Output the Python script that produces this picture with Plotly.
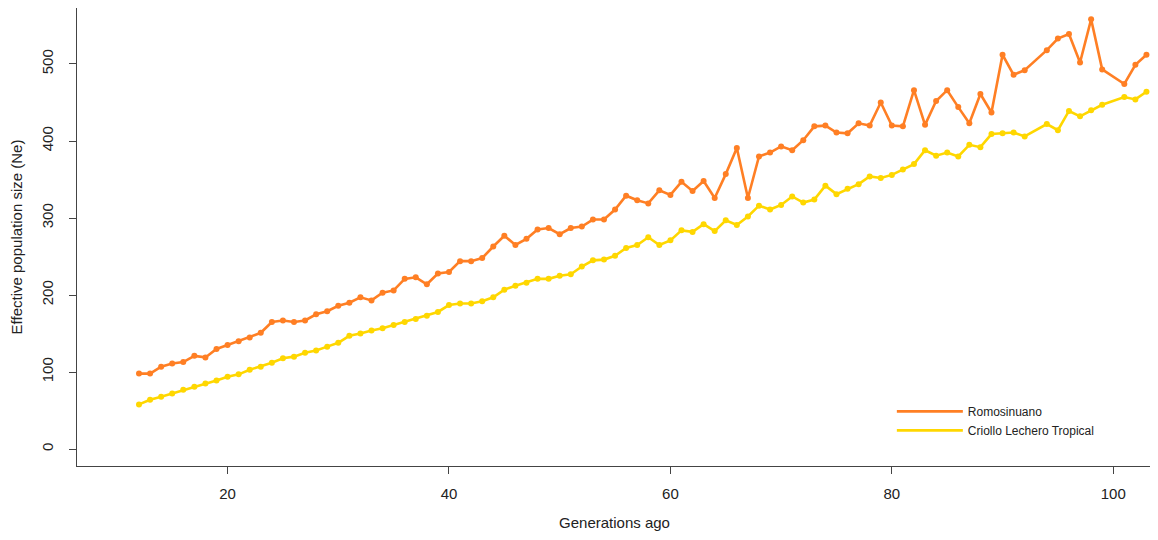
import plotly.graph_objects as go

generations = [12, 13, 14, 15, 16, 17, 18, 19, 20, 21, 22, 23, 24, 25, 26, 27, 28, 29, 30,
               31, 32, 33, 34, 35, 36, 37, 38, 39, 40, 41, 42, 43, 44, 45, 46, 47, 48, 49,
               50, 51, 52, 53, 54, 55, 56, 57, 58, 59, 60, 61, 62, 63, 64, 65, 66, 67,
               68, 69, 70, 71, 72, 73, 74, 75, 76, 77, 78, 79, 80, 81, 82, 83, 84,
               85, 86, 87, 88, 89, 90, 91, 92, 94, 95, 96, 97, 98, 99, 101, 102, 103]

romosinuano = [98, 98, 107, 111, 113, 121, 119, 130, 135, 140, 145, 151, 165, 167, 165, 167, 175, 179, 186,
               190, 197, 193, 203, 206, 221, 223, 214, 228, 230, 244, 244, 248, 263, 277, 265, 273, 285, 287,
               279, 287, 289, 298, 298, 311, 329, 323, 319, 336, 330, 347, 335, 348, 326, 357, 391, 326,
               380, 385, 393, 388, 401, 419, 420, 411, 410, 423, 420, 450, 420, 419, 466, 421, 452,
               466, 444, 423, 461, 437, 512, 486, 492, 518, 533, 539, 502, 558, 493, 474, 499, 512]

criollo = [58, 64, 68, 72, 77, 81, 85, 89, 94, 97, 103, 107, 112, 118, 120, 125, 128, 133, 138,
           147, 150, 154, 157, 161, 165, 169, 173, 178, 187, 189, 189, 192, 197, 207, 212, 216, 221, 221,
           225, 227, 237, 245, 246, 251, 261, 265, 275, 265, 271, 284, 282, 292, 283, 297, 291, 302,
           316, 311, 317, 328, 320, 324, 342, 331, 338, 344, 354, 352, 356, 363, 370, 388, 381,
           385, 380, 395, 392, 409, 410, 411, 406, 422, 414, 439, 432, 440, 447, 457, 454, 464]

series_names = ["Romosinuano", "Criollo Lechero Tropical"]
series_colors = ["#FF7F24", "#FFD700"]

x_ticks = [20, 40, 60, 80, 100]
y_ticks = [0, 100, 200, 300, 400, 500]

fig = go.Figure()
for name, vals, col in zip(series_names, [romosinuano, criollo], series_colors):
    fig.add_trace(go.Scatter(
        x=generations, y=vals, mode="lines+markers", name=name,
        line=dict(color=col, width=2.6),
        marker=dict(color=col, size=6),
        showlegend=False, cliponaxis=False,
    ))
# legend-only entries (lines without markers)
for name, col in zip(series_names, series_colors):
    fig.add_trace(go.Scatter(
        x=[None], y=[None], mode="lines", name=name,
        line=dict(color=col, width=2.6), showlegend=True,
    ))

axis_common = dict(
    showgrid=False, zeroline=False, showline=True, linecolor="#444", linewidth=1,
    mirror=True, ticks="outside", ticklen=7, tickcolor="#444", automargin=False,
    tickfont=dict(family="Liberation Sans, Arial, sans-serif", size=15, color="#222"),
)

# page body has an 8px margin, so the figure is 8px smaller than the window
fig.update_layout(
    width=1150, height=532,
    margin=dict(l=69, r=6, t=0, b=74),
    paper_bgcolor="white", plot_bgcolor="white",
    font=dict(family="Liberation Sans, Arial, sans-serif", color="#222"),
    xaxis=dict(range=[6.4, 103.5], tickvals=x_ticks, ticklabelstandoff=7,
               title=dict(text="Generations ago", font=dict(size=15), standoff=16),
               **axis_common),
    yaxis=dict(range=[-22, 572.7], tickvals=y_ticks, tickangle=-90,
               ticklabelstandoff=10,
               title=dict(text="Effective population size (Ne)", font=dict(size=15), standoff=12),
               **axis_common),
    legend=dict(x=0.758, y=0.151, xanchor="left", yanchor="top",
                bgcolor="rgba(0,0,0,0)", borderwidth=0,
                font=dict(size=12, color="#222"), itemwidth=66,
                tracegroupgap=0),
)

fig.write_html("out.html")
